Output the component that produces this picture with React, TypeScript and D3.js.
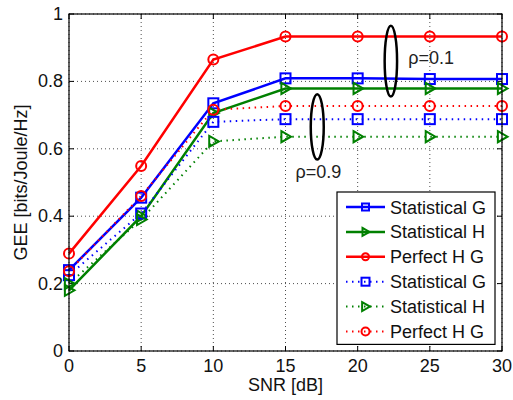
import React from 'react';
import * as d3 from 'd3';

// SNR points and GEE values
const snr = [0, 5, 10, 15, 20, 25, 30];
const statGRho01 = [0.24, 0.455, 0.735, 0.809, 0.809, 0.807, 0.807];
const statHRho01 = [0.18, 0.4, 0.706, 0.779, 0.779, 0.779, 0.779];
const perfRho01 = [0.289, 0.549, 0.865, 0.933, 0.933, 0.933, 0.933];
const statGRho09 = [0.225, 0.408, 0.68, 0.688, 0.688, 0.688, 0.688];
const statHRho09 = [0.2, 0.39, 0.622, 0.636, 0.636, 0.636, 0.636];
const perfRho09 = [0.237, 0.46, 0.716, 0.727, 0.727, 0.727, 0.727];

const xTicks = [0, 5, 10, 15, 20, 25, 30];
const yTicks = [0, 0.2, 0.4, 0.6, 0.8, 1];

const series = [
  { label: 'Statistical G', values: statGRho01, color: '#0000ff', marker: 'square', dotted: false },
  { label: 'Statistical H', values: statHRho01, color: '#008000', marker: 'triangle', dotted: false },
  { label: 'Perfect H G', values: perfRho01, color: '#ff0000', marker: 'circle', dotted: false },
  { label: 'Statistical G', values: statGRho09, color: '#0000ff', marker: 'square', dotted: true },
  { label: 'Statistical H', values: statHRho09, color: '#008000', marker: 'triangle', dotted: true },
  { label: 'Perfect H G', values: perfRho09, color: '#ff0000', marker: 'circle', dotted: true },
];

// annotation ellipses in data units
const notes = [
  { text: 'ρ=0.1', cx: 22.3, cy: 0.86, rx: 0.43, ry: 0.105, tx: 23.5, ty: 0.852 },
  { text: 'ρ=0.9', cx: 17.2, cy: 0.665, rx: 0.45, ry: 0.097, tx: 15.7, ty: 0.514 },
];

const W = 513;
const H = 400;
const m = { left: 69, right: 11, top: 14, bottom: 49 };
const font = 'Liberation Sans, Arial, Helvetica, sans-serif';

function Marker({ kind, x, y, color, size = 10 }) {
  if (kind === 'square') {
    return <rect x={x - size / 2} y={y - size / 2} width={size} height={size} fill="none" stroke={color} strokeWidth={2} />;
  }
  if (kind === 'circle') {
    return <circle cx={x} cy={y} r={size / 2} fill="none" stroke={color} strokeWidth={2} />;
  }
  const s = size / 2 + 0.5;
  const pts = `${x - s * 0.75},${y - s} ${x + s},${y} ${x - s * 0.75},${y + s}`;
  return <polygon points={pts} fill="none" stroke={color} strokeWidth={2} />;
}

export default function App() {
  const x = d3.scaleLinear().domain([0, 30]).range([m.left, W - m.right]);
  const y = d3.scaleLinear().domain([0, 1]).range([H - m.bottom, m.top]);
  const [x0, x1] = x.range();
  const [y0, y1] = y.range();

  const line = (vals: number[]) =>
    d3.line<number>().x((_, i) => x(snr[i])).y((d) => y(d))(vals) || '';

  const legX = 337;
  const legY = 192;
  const legW = 158;
  const rowH = 24.9;

  return (
    <svg width={W} height={H} style={{ position: 'absolute', left: 0, top: 0, background: '#fff' }} fontFamily={font}>
      {/* grid */}
      {xTicks.map((t) => (
        <line key={'gx' + t} x1={x(t)} x2={x(t)} y1={y0} y2={y1} stroke="#000" strokeWidth={0.7} strokeDasharray="1,3" />
      ))}
      {yTicks.map((t) => (
        <line key={'gy' + t} x1={x0} x2={x1} y1={y(t)} y2={y(t)} stroke="#000" strokeWidth={0.7} strokeDasharray="1,3" />
      ))}
      {/* ticks */}
      {xTicks.map((t) => (
        <g key={'tx' + t}>
          <line x1={x(t)} x2={x(t)} y1={y0} y2={y0 - 5} stroke="#000" />
          <line x1={x(t)} x2={x(t)} y1={y1} y2={y1 + 5} stroke="#000" />
          <text x={x(t)} y={y0 + 21} textAnchor="middle" fontSize={18} fill="#111">{t}</text>
        </g>
      ))}
      {yTicks.map((t) => (
        <g key={'ty' + t}>
          <line x1={x0} x2={x0 + 5} y1={y(t)} y2={y(t)} stroke="#000" />
          <line x1={x1} x2={x1 - 5} y1={y(t)} y2={y(t)} stroke="#000" />
          <text x={x0 - 6} y={y(t) + 6} textAnchor="end" fontSize={18} fill="#111">{t}</text>
        </g>
      ))}
      {/* lines */}
      {series.map((s, i) => (
        <path key={'l' + i} d={line(s.values)} fill="none" stroke={s.color}
          strokeWidth={s.dotted ? 2 : 2.5} strokeDasharray={s.dotted ? '1.5,4.5' : undefined} />
      ))}
      {series.map((s, i) => (
        <g key={'m' + i}>
          {s.values.map((v, j) => (
            <Marker key={j} kind={s.marker} x={x(snr[j])} y={y(v)} color={s.color} />
          ))}
        </g>
      ))}
      {/* annotations */}
      {notes.map((n) => (
        <g key={n.text}>
          <ellipse cx={x(n.cx)} cy={y(n.cy)} rx={x(n.rx) - x(0)} ry={y(0) - y(n.ry)} fill="none" stroke="#000" strokeWidth={2.5} />
          <text x={x(n.tx)} y={y(n.ty)} fontSize={18} fill="#222">{n.text}</text>
        </g>
      ))}
      {/* axes box */}
      <rect x={x0} y={y1} width={x1 - x0} height={y0 - y1} fill="none" stroke="#000" strokeWidth={1.2} />
      {/* legend */}
      <rect x={legX} y={legY} width={legW} height={rowH * 6 + 3} fill="#fff" stroke="#000" strokeWidth={1.2} />
      {series.map((s, i) => {
        const cy = legY + 15 + i * rowH;
        return (
          <g key={'lg' + i}>
            <line x1={legX + 9} x2={legX + 48} y1={cy} y2={cy} stroke={s.color}
              strokeWidth={s.dotted ? 2 : 2.5} strokeDasharray={s.dotted ? '1.5,4.5' : undefined} />
            <Marker kind={s.marker} x={legX + 28.5} y={cy} color={s.color} size={s.dotted ? 8 : 7} />
            <text x={legX + 53} y={cy + 6.5} fontSize={18} fill="#111">{s.label}</text>
          </g>
        );
      })}
      {/* axis labels */}
      <text x={(x0 + x1) / 2} y={391} textAnchor="middle" fontSize={18} fill="#111">SNR [dB]</text>
      <text transform={`translate(27,${(y0 + y1) / 2}) rotate(-90)`} textAnchor="middle" fontSize={18} fill="#111">GEE [bits/Joule/Hz]</text>
    </svg>
  );
}
